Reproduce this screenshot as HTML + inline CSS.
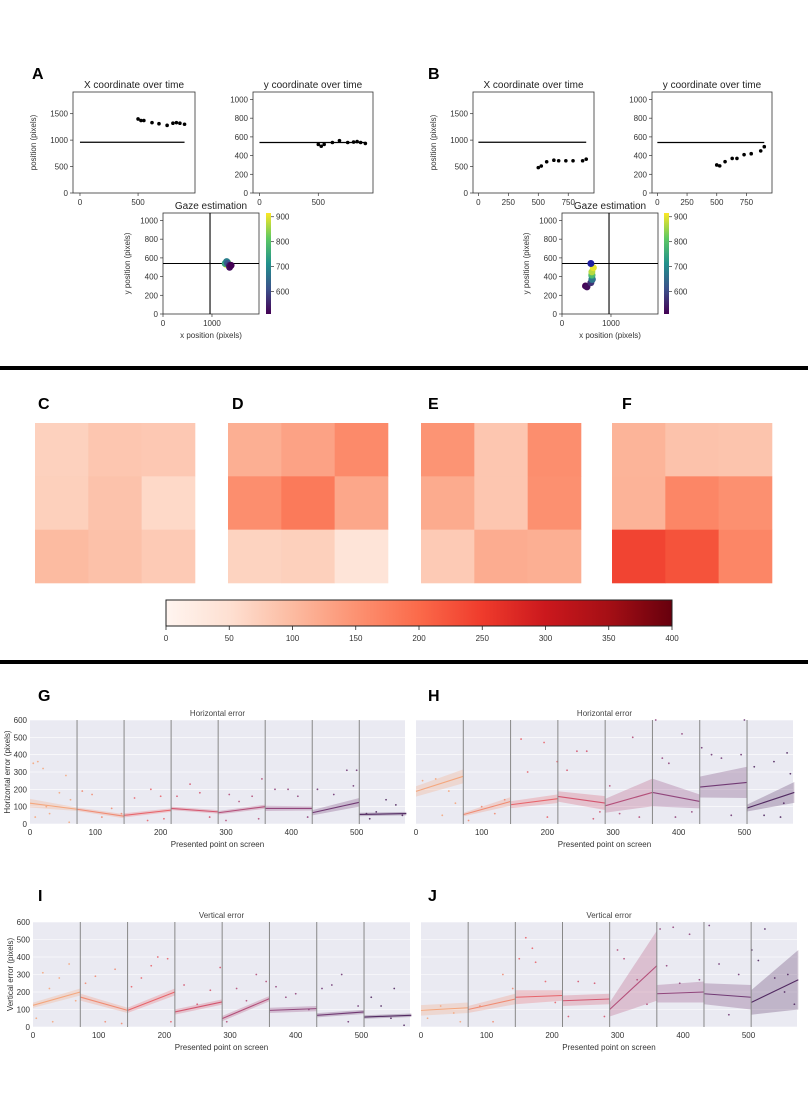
<!DOCTYPE html>
<html><head><meta charset="utf-8">
<style>
html,body{margin:0;padding:0;background:#fff;}
svg{display:block;font-family:"Liberation Sans","DejaVu Sans",sans-serif;}
.lbl{font-weight:bold;font-size:16px;fill:#000;}
.tk{font-size:8px;fill:#333;}
.tt{font-size:10px;fill:#222;}
.st{font-size:8px;fill:#444;}
</style></head>
<body>
<svg id="fig" width="808" height="1097" viewBox="0 0 808 1097" xmlns="http://www.w3.org/2000/svg">
<defs>
<linearGradient id="vir" x1="0" y1="1" x2="0" y2="0">
<stop offset="0" stop-color="#440154"/><stop offset="0.25" stop-color="#3b528b"/><stop offset="0.5" stop-color="#21918c"/><stop offset="0.75" stop-color="#5ec962"/><stop offset="1" stop-color="#fde725"/>
</linearGradient>
<linearGradient id="reds" x1="0" y1="0" x2="1" y2="0">
<stop offset="0" stop-color="#fff5f0"/><stop offset="0.125" stop-color="#fee0d2"/><stop offset="0.25" stop-color="#fcbba1"/><stop offset="0.375" stop-color="#fc9272"/><stop offset="0.5" stop-color="#fb6a4a"/><stop offset="0.625" stop-color="#ef3b2c"/><stop offset="0.75" stop-color="#cb181d"/><stop offset="0.875" stop-color="#a50f15"/><stop offset="1" stop-color="#67000d"/>
</linearGradient>
</defs>
<text class="lbl" x="32" y="79">A</text>
<text class="lbl" x="428" y="79">B</text>
<rect x="0" y="366" width="808" height="4" fill="#000"/>
<rect x="0" y="660" width="808" height="4" fill="#000"/>
<text class="lbl" x="38" y="409">C</text>
<text class="lbl" x="232" y="409">D</text>
<text class="lbl" x="428" y="409">E</text>
<text class="lbl" x="622" y="409">F</text>
<text class="lbl" x="38" y="701">G</text>
<text class="lbl" x="428" y="701">H</text>
<text class="lbl" x="38" y="901">I</text>
<text class="lbl" x="428" y="901">J</text>
<g id="root"></g>
</svg>
<script>
// ---------- data: panels A/B ----------
const aTimes=[500,525,550,620,680,750,800,830,860,900];
const aX=[1400,1370,1370,1330,1310,1280,1320,1330,1320,1300];
const aY=[520,500,520,540,560,540,545,550,540,530];
const bTimes=[500,525,570,630,670,730,790,870,900];
const bX=[480,510,590,620,610,610,610,610,640];
const bY=[300,290,335,370,370,410,420,450,495];
const targetX=960, targetY=540;
// ---------- data: heatmaps ----------
const heatC=[[70,85,82],[72,90,60],[100,92,80]];
const heatD=[[115,130,160],[155,180,125],[68,72,40]];
const heatE=[[148,85,155],[120,85,153],[80,118,115]];
const heatF=[[108,90,88],[110,165,153],[240,225,165]];
const cbarTicks=[0,50,100,150,200,250,300,350,400];
// ---------- data: error charts ----------
const segEdges=[0,72,144,216,288,360,432,504,576];
const gTrend=[[120,85],[85,45],[50,80],[90,70],[65,100],[90,90],[65,125],[55,60]];
const hTrend=[[188,275],[54,130],[111,146],[159,121],[105,182],[182,130],[213,240],[92,182]];
const iTrend=[[124,200],[171,95],[95,200],[86,143],[48,162],[95,105],[67,86],[57,67]];
const jTrend=[[95,110],[100,160],[170,180],[150,160],[100,350],[190,200],[190,170],[140,270]];
const gBand=[[25,10],[10,12],[12,10],[10,10],[10,12],[15,12],[15,25],[10,10]];
const hBand=[[30,40],[10,25],[20,25],[30,40],[40,80],[80,40],[60,90],[20,60]];
const iBand=[[15,20],[20,15],[15,20],[15,15],[15,15],[15,15],[12,12],[10,10]];
const jBand=[[30,30],[20,30],[40,30],[30,30],[40,200],[50,60],[60,70],[70,170]];
const gPts=[[5,350],[12,360],[20,320],[30,60],[45,180],[55,280],[62,140],[8,40],[25,100],[80,190],[95,170],[110,40],[125,90],[140,60],[160,150],[185,200],[200,160],[205,30],[225,160],[245,230],[260,180],[275,40],[305,170],[320,130],[340,160],[355,260],[375,200],[395,200],[410,160],[425,40],[440,200],[465,170],[485,310],[500,310],[495,220],[515,60],[530,70],[545,140],[560,110],[570,50],[520,30],[350,30],[300,20],[180,20],[60,10]];
const hPts=[[10,250],[30,260],[50,190],[40,50],[60,120],[80,20],[100,100],[120,60],[135,140],[160,490],[170,300],[195,470],[200,40],[215,360],[230,310],[245,420],[260,420],[270,30],[280,70],[295,220],[310,60],[330,500],[340,40],[365,600],[375,380],[385,350],[395,40],[405,520],[420,70],[435,440],[450,400],[465,380],[480,50],[495,400],[500,600],[515,330],[530,50],[545,360],[555,40],[565,410],[570,290],[560,120]];
const iPts=[[5,50],[15,310],[25,220],[40,280],[55,360],[65,150],[30,30],[80,250],[95,290],[110,30],[125,330],[135,20],[150,230],[165,280],[180,350],[190,400],[205,390],[210,30],[230,240],[250,130],[270,210],[285,340],[295,30],[310,220],[325,150],[340,300],[355,260],[370,230],[385,170],[400,190],[420,100],[440,220],[455,240],[470,300],[480,30],[495,120],[515,170],[530,120],[550,220],[565,10],[545,50]];
const jPts=[[10,50],[30,120],[50,80],[60,30],[90,120],[110,30],[125,300],[140,220],[150,390],[160,510],[170,450],[175,370],[190,260],[205,140],[225,60],[240,260],[265,250],[280,60],[300,440],[310,390],[330,270],[345,130],[365,560],[375,350],[385,570],[395,250],[410,530],[425,270],[440,580],[455,360],[470,70],[485,300],[505,440],[515,380],[525,560],[540,280],[555,200],[570,130],[560,300]];
const errYTicks=[0,100,200,300,400,500,600];
const errXTicks=[0,100,200,300,400,500];
const segColors=['#f4a77e','#f08c73','#e8656b','#d4566f','#b4507a','#91467c','#713a74','#522a62'];

const NS='http://www.w3.org/2000/svg';
const root=document.getElementById('root');
function mk(tag,attrs,parent){const e=document.createElementNS(NS,tag);for(const k in attrs)e.setAttribute(k,attrs[k]);(parent||root).appendChild(e);return e;}
function txt(x,y,s,cls,anchor,parent){const t=mk('text',{x:x,y:y,class:cls,'text-anchor':anchor||'middle'},parent);t.textContent=s;return t;}
function lin(d0,d1,r0,r1){return v=>r0+(v-d0)*(r1-r0)/(d1-d0);}
function lerpHex(a,b,t){const p=h=>[1,3,5].map(i=>parseInt(h.substr(i,2),16));const A=p(a),B=p(b);return 'rgb('+A.map((v,i)=>Math.round(v+(B[i]-v)*t)).join(',')+')';}
function cmap(stops,t){t=Math.max(0,Math.min(1,t));const n=stops.length-1;const i=Math.min(n-1,Math.floor(t*n));return lerpHex(stops[i],stops[i+1],t*n-i);}
const VIR=['#440154','#3b528b','#21918c','#5ec962','#fde725'];
const REDS=['#fff5f0','#fee0d2','#fcbba1','#fc9272','#fb6a4a','#ef3b2c','#cb181d','#a50f15','#67000d'];

// ---------- time plot ----------
function timePlot(id,L,R,T,B,xd,yd,xt,yt,times,vals,target,title,ylab){
  const g=mk('g',{});
  
  
  const sx=lin(xd[0],xd[1],L,R), sy=lin(yd[0],yd[1],B,T);
  const box=mk('rect',{x:L,y:T,width:R-L,height:B-T,fill:'#fff',stroke:'#333','stroke-width':0.8},g);
  
  
  const tl=txt((L+R)/2,T-4,title,'tt','middle',g);
  
  
  xt.forEach(v=>{mk('line',{x1:sx(v),x2:sx(v),y1:B,y2:B+3,stroke:'#333','stroke-width':0.7},g);
    const t=txt(sx(v),B+12,String(v),'tk','middle',g);
    
    });
  yt.forEach(v=>{mk('line',{x1:L-3,x2:L,y1:sy(v),y2:sy(v),stroke:'#333','stroke-width':0.7},g);
    const t=txt(L-5,sy(v)+3,String(v),'tk','end',g);
    
    });
  const tline=mk('line',{x1:sx(0),x2:sx(900),y1:sy(target),y2:sy(target),stroke:'#000','stroke-width':1.2},g);
  
  
  times.forEach((t,i)=>{const c=mk('circle',{cx:sx(t),cy:sy(vals[i]),r:1.8,fill:'#000'},g);
    
    });
  if(ylab){const yl=txt(0,0,ylab,'tk','middle',g);yl.setAttribute('transform','translate('+(L-37)+','+((T+B)/2)+') rotate(-90)');
    
    }
}
function gazePlot(id,L,R,T,B,cbL,times,xs,ys,extra){
  const g=mk('g',{});
  
  
  const sx=lin(0,1960,L,R), sy=lin(0,1080,B,T);
  const box=mk('rect',{x:L,y:T,width:R-L,height:B-T,fill:'#fff',stroke:'#333','stroke-width':0.8},g);
  
  
  const tl=txt((L+R)/2,T-4,'Gaze estimation','tt','middle',g);
  
  
  [0,1000].forEach(v=>{mk('line',{x1:sx(v),x2:sx(v),y1:B,y2:B+3,stroke:'#333','stroke-width':0.7},g);
    const t=txt(sx(v),B+12,String(v),'tk','middle',g);
    
    });
  [0,200,400,600,800,1000].forEach(v=>{mk('line',{x1:L-3,x2:L,y1:sy(v),y2:sy(v),stroke:'#333','stroke-width':0.7},g);
    const t=txt(L-5,sy(v)+3,String(v),'tk','end',g);
    
    });
  const xl=txt((L+R)/2,B+24,'x position (pixels)','tk','middle',g);
  
  
  const yl=txt(0,0,'y position (pixels)','tk','middle',g);yl.setAttribute('transform','translate('+(L-33)+','+((T+B)/2)+') rotate(-90)');
  
  
  mk('line',{x1:sx(targetX),x2:sx(targetX),y1:T,y2:B,stroke:'#000','stroke-width':1.1},g);
  mk('line',{x1:L,x2:R,y1:sy(targetY),y2:sy(targetY),stroke:'#000','stroke-width':1.1},g);
  const cs=v=>cmap(VIR,(v-510)/(915-510));
  times.forEach((t,i)=>{const c=mk('circle',{cx:sx(xs[i]),cy:sy(ys[i]),r:3.5,fill:cs(t)},g);
    
    });
  if(extra){const c=mk('circle',{cx:sx(extra[0]),cy:sy(extra[1]),r:3.5,fill:'#1f1fa0'},g);
    
    }
  const cb=mk('rect',{x:cbL,y:T,width:5,height:B-T,fill:'url(#vir)'},g);
  
  
  const cy=lin(510,915,B,T);
  [600,700,800,900].forEach(v=>{mk('line',{x1:cbL+5,x2:cbL+8,y1:cy(v),y2:cy(v),stroke:'#333','stroke-width':0.7},g);
    const t=txt(cbL+10,cy(v)+3,String(v),'tk','start',g);
    
    });
}
timePlot('a-x-over-time',73,195,92,193,[-60,990],[0,1910],[0,500],[0,500,1000,1500],aTimes,aX,targetX,'X coordinate over time','position (pixels)');
timePlot('a-y-over-time',253,373,92,193,[-55,965],[0,1080],[0,500],[0,200,400,600,800,1000],aTimes,aY,targetY,'y coordinate over time',null);
gazePlot('a-gaze-estimation',163,259,213,314,266,aTimes.slice().reverse(),aX.slice().reverse().map(v=>v-10),aY.slice().reverse(),null);
timePlot('b-x-over-time',473,594,92,193,[-45,965],[0,1910],[0,250,500,750],[0,500,1000,1500],bTimes,bX,targetX,'X coordinate over time','position (pixels)');
timePlot('b-y-over-time',652,772,92,193,[-45,965],[0,1080],[0,250,500,750],[0,200,400,600,800,1000],bTimes,bY,targetY,'y coordinate over time',null);
gazePlot('b-gaze-estimation',562,658,213,314,664,bTimes,bX,bY,[590,540]);

// ---------- heatmaps ----------
function heat(id,L,mat){
  const g=mk('g',{});
  
  
  const T=423,S=160/3;
  mat.forEach((row,r)=>row.forEach((v,c)=>{const e=mk('rect',{x:L+c*S,y:T+r*S,width:S+0.3,height:S+0.3,fill:cmap(REDS,v/400)},g);
    
    }));
}
heat('heatmap-c',35,heatC);heat('heatmap-d',228,heatD);heat('heatmap-e',421,heatE);heat('heatmap-f',612,heatF);
(function(){
  const g=mk('g',{});
  
  
  const L=166,R=672,T=600,B=626;
  mk('rect',{x:L,y:T,width:R-L,height:B-T,fill:'url(#reds)',stroke:'#222','stroke-width':1},g);
  const sx=lin(0,400,L,R);
  cbarTicks.forEach(v=>{mk('line',{x1:sx(v),x2:sx(v),y1:B,y2:B+4,stroke:'#222','stroke-width':0.8},g);
    const t=txt(sx(v),B+15,String(v),'tk','middle',g);
    t.setAttribute('font-size','11');
    
    });
})();

// ---------- error charts ----------
function errChart(id,L,R,T,B,title,ylab,showY,trend,band,pts){
  const g=mk('g',{});
  
  
  const sx=lin(0,574,L,R), sy=lin(0,600,B,T), cy=v=>sy(Math.max(0,Math.min(600,v)));
  const bg=mk('rect',{x:L,y:T,width:R-L,height:B-T,fill:'#eaeaf2'},g);
  
  
  errYTicks.forEach(v=>{mk('line',{x1:L,x2:R,y1:sy(v),y2:sy(v),stroke:'#fff','stroke-width':0.6},g);
    if(showY){const t=txt(L-3,sy(v)+3,String(v),'tk','end',g);
      t.setAttribute('font-size','9');
      
      }});
  errXTicks.forEach(v=>{const t=txt(sx(v),B+11,String(v),'tk','middle',g);
    t.setAttribute('font-size','9');
    
    });
  const tl=txt((L+R)/2,T-4,title,'st','middle',g);
  
  
  const xl=txt((L+R)/2,B+23,'Presented point on screen','tk','middle',g);
  xl.setAttribute('font-size','9.5');
  
  
  if(ylab){const yl=txt(0,0,ylab,'tk','middle',g);yl.setAttribute('font-size','9');yl.setAttribute('transform','translate('+(L-20)+','+((T+B)/2)+') rotate(-90)');
    
    }
  pts.forEach(p=>{const si=Math.min(7,Math.floor(p[0]/72));
    const c=mk('circle',{cx:sx(p[0]),cy:cy(p[1]),r:0.9,fill:segColors[si],opacity:0.9},g);
    
    });
  trend.forEach((tr,i)=>{const x0=segEdges[i],x1=segEdges[i+1],b=band[i];
    const poly=mk('polygon',{points:[[x0,tr[0]+b[0]],[x1,tr[1]+b[1]],[x1,tr[1]-b[1]],[x0,tr[0]-b[0]]].map(q=>sx(q[0])+','+cy(q[1])).join(' '),fill:segColors[i],opacity:0.28},g);
    
    
    const ln=mk('line',{x1:sx(x0),y1:cy(tr[0]),x2:sx(x1),y2:cy(tr[1]),stroke:segColors[i],'stroke-width':1.1},g);
    
    });
  segEdges.slice(1,8).forEach(v=>{const d=mk('line',{x1:sx(v),x2:sx(v),y1:T,y2:B,stroke:'#888','stroke-width':1},g);
    
    });
}
errChart('horizontal-error-g',30,405,720,824,'Horizontal error','Horizontal error (pixels)',true,gTrend,gBand,gPts);
errChart('horizontal-error-h',416,793,720,824,'Horizontal error',null,false,hTrend,hBand,hPts);
errChart('vertical-error-i',33,410,922,1027,'Vertical error','Vertical error (pixels)',true,iTrend,iBand,iPts);
errChart('vertical-error-j',421,797,922,1027,'Vertical error',null,false,jTrend,jBand,jPts);
</script>
</body></html>
